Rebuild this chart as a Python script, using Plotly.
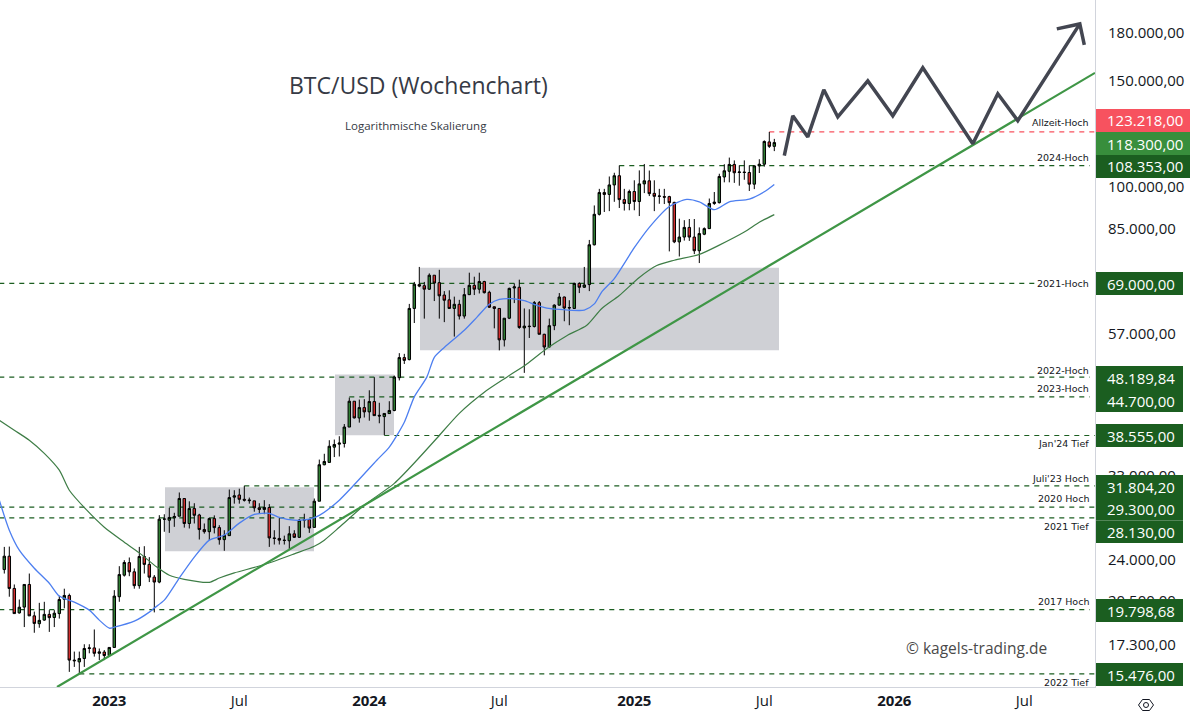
import pandas as pd
import plotly.graph_objects as go

W0 = pd.Timestamp("2023-01-02")
def wk(w):
    return W0 + pd.Timedelta(days=7 * w)

dates = pd.date_range("2022-08-08", periods=155, freq="7D")

opens = [
 23080,24290,21470,19550,19990,21800,19330,18760,19020,19440,19210,19500,20600,20900,16320,16210,16420,17060,17100,16750,16830,
 16610,17130,20800,22590,23700,22880,21700,24260,23540,22420,22000,27990,27880,28130,28310,30290,27530,29150,28440,26900,26680,28050,27100,25880,26280,30450,30700,30200,30130,30020,29230,29050,29270,26050,26000,25830,25770,26460,26110,27880,27950,27120,29980,34470,34780,36870,37300,37390,39820,43960,41230,42900,
 42200,43900,41650,41450,41930,42430,48100,51950,51550,62700,68700,68400,67500,71200,69200,66000,64800,62700,63700,60900,66100,68500,67500,69500,66700,63100,62700,55600,60400,67800,68000,58200,58600,58500,64100,56800,54100,58700,63500,65500,62800,62700,69000,68000,68700,80000,89900,97700,97000,100600,104200,95100,93700,
 98100,94400,101000,102200,97400,96300,96200,96200,94100,80900,82400,85500,82400,78200,83300,85100,93700,94000,103700,106000,108800,105500,105700,105500,100900,108200,108900,118600,116600]
highs = [
 25170,25200,21800,20580,21800,22730,19650,20320,20400,19760,19760,20870,21450,21050,16860,16860,17340,17340,18350,17060,16960,
 17130,21330,23380,23920,24170,23180,25170,25240,24200,22600,28420,28520,29230,28680,31000,30290,29970,29750,28570,27530,28150,28400,27350,26830,31350,31270,31450,31800,30400,30020,29750,30100,29650,26830,28100,26280,27250,26830,28000,28580,27950,30290,35160,35950,37862,37960,38450,40280,44580,43960,44240,44300,
 45840,48190,43700,41950,43960,48500,52840,52700,63800,69400,73500,69400,71700,71200,72700,67000,67200,65600,64800,67800,71900,70800,71900,69700,67100,63200,62700,60400,67900,69000,70000,62700,62500,64500,64500,56900,60300,63700,66500,65600,64700,69200,69300,73500,81500,93000,99100,99100,103900,105400,108350,99100,98800,
 102400,106360,109000,106300,102400,99100,99100,96500,94300,88400,87900,88300,88300,85500,85500,95500,97900,105000,108900,111700,110500,108400,110500,108400,108400,111000,119300,123218,120000]
lows = [
 22730,20800,19500,19500,18520,19330,18120,18470,18970,18180,18520,19130,19900,15600,15900,15480,15900,16750,16540,16320,16320,
 16590,17130,20400,22470,22500,21450,21450,22730,22000,19590,21900,26670,26560,27180,28310,27100,27010,27530,25890,26480,25830,26500,25390,24800,26250,29700,29700,29940,29700,28800,28640,28530,25170,25400,25400,25400,24920,26040,26040,27100,26560,27120,29980,34400,34750,35500,35580,36820,39820,41150,40500,41300,
 40800,41600,40400,38600,41900,42300,47600,50700,51400,59300,68000,60300,67300,64500,60300,59500,62600,56300,60100,60300,66000,66000,66400,66400,62800,58100,53400,54200,60200,64000,58000,49000,56000,58300,56800,52400,54000,57700,63400,59700,58800,62600,66500,67800,67000,79800,89500,90700,91000,94300,92100,91200,91300,
 91300,89300,97500,96400,91000,93600,93500,78000,80500,76500,81300,81200,77200,74600,83000,85000,93200,93700,101600,101600,101400,100300,102600,98300,99000,105300,107900,115900,114500]
closes = [
 24290,21470,19500,19980,21800,19330,18780,19000,19440,19200,19530,20580,20900,16320,16280,16420,17060,17100,16750,16840,16610,
 17130,20850,22640,23710,22880,21700,24260,23540,22420,22000,27990,28000,28170,28280,30290,27530,29150,28410,26900,26680,28050,27100,25880,26310,30400,30600,30200,30100,30050,29230,29050,29270,26050,26000,25830,25800,26460,26110,27880,27950,27050,29980,34470,34900,37000,37250,37450,39820,43960,41240,42900,42200,
 43900,41600,41550,41950,42430,48230,51950,51400,62700,68800,68300,67500,71200,69100,65800,64700,62700,63700,60900,66100,68500,67500,69500,66600,63000,62700,55600,60400,67700,68100,58300,58600,58500,64100,56800,54100,58700,63500,65500,62800,62900,69000,68000,68600,80000,89900,97700,97000,100600,104200,95100,93700,98100,
 94400,101000,102200,97300,96300,96400,96000,94000,80900,82400,85500,82400,78200,83500,85100,93700,94200,103900,106200,108800,105400,105700,105500,100900,108200,108900,118800,116600,118300]
assert len(opens) == len(highs) == len(lows) == len(closes) == 155

blue_weeks = [-22,-20,-18,-15,-12,-10,-7,-4,-2,0,1,5,8,9,11,14,17,20,23,26,29,32,34,37,40,42,46,53.5,56,59,61,63.5,65,67,71,73.5,76,78,80.5,83,85,87.5,90,95,97,98.5,101,105,108,112,115.5,118,121,124,128,131,133]
blue_vals = [30097,26833,24857,23200,21900,20850,20370,19759,19018,18440,18510,18940,19610,19920,20530,22340,24200,25830,26340,27570,28500,28620,28180,27880,27990,28400,30100,35070,36870,40550,44700,48200,52000,54000,57670,60600,63700,64900,65100,64600,63700,62800,62500,62300,63800,66800,70300,79100,85500,92600,95200,94300,91500,94300,95300,98000,100800]
green_weeks = [-22,-19,-16,-13,-10,-8,-4.5,-1,3,6,9.5,12,15,20,22,25,29.5,33,37,41,43,46,51,57,61.5,65.5,70,75,79.5,83.5,87.5,91.5,95.5,98.5,102,106,109.5,113,118,122,127,130,133]
green_vals = [40872,39338,37862,36000,33757,31270,28967,27140,25630,24600,23300,22580,22230,21980,22340,22790,23330,23830,24510,25230,25830,27130,29530,32100,35070,38150,41970,45500,48200,50700,53800,56500,58800,62700,65900,70600,73900,75400,77100,79900,84000,87200,89800]
trend_weeks = [-10.46, 197.14]
trend_vals = [14723, 154500]
forecast_weeks = [135,136.7,139.7,142.9,145.7,151.7,156.7,162.7,172.7,177.7,181.7,194.1]
forecast_vals = [112500,131100,120900,144800,130500,149800,131100,157500,117800,142600,128600,186300]
arrow_weeks = [189.5,194.1,195]
arrow_vals = [182800,186300,171900]

boxes = [(11.14,40.94,24760,31630),(45.14,56.94,38590,48670),(62.14,133.94,53422,73300)]
hlines = [
 (132,197.14,123218,"#f7525f"),(102,196.1,108353,"#1b5e20"),(-22,185.5,69000,"#1b5e20"),(-22,196.1,48189.84,"#1b5e20"),
 (48,196.1,44700,"#1b5e20"),(55,197.14,38555,"#1b5e20"),(27,197.14,31804.2,"#1b5e20"),(-22,197.14,29300,"#1b5e20"),
 (-22,197.14,28130,"#1b5e20"),(-22,196.1,19798.68,"#1b5e20"),(-6,197.14,15476,"#1b5e20")]
line_labels = [("Allzeit-Hoch",123),("2024-Hoch",157),("2021-Hoch",284),("2022-Hoch",370),("2023-Hoch",388),
 ("Jan'24 Tief",443),("Juli'23 Hoch",478),("2020 Hoch",498),("2021 Tief",526),("2017 Hoch",601),("2022 Tief",682)]
badges = [("123.218,00",109,132,1190,"#f7525f"),("118.300,00",132,155,1190,"#388e3c"),("108.353,00",155,178,1190,"#1b5e20"),
 ("69.000,00",272,295,1183,"#1b5e20"),("48.189,84",366,389,1183,"#1b5e20"),("44.700,00",389,412,1183,"#1b5e20"),("38.555,00",424,447,1183,"#1b5e20"),
 ("31.804,20",475,498,1183,"#1b5e20"),("29.300,00",498,520.5,1183,"#1b5e20"),("28.130,00",520.5,543,1183,"#1b5e20"),("19.798,68",599,622,1183,"#1b5e20"),("15.476,00",663,686,1183,"#1b5e20")]
y_ticks = [180000,150000,100000,85000,57000,33000,24000,20500,17300]
y_labels = ["180.000,00","150.000,00","100.000,00","85.000,00","57.000,00","33.000,00","24.000,00","20.500,00","17.300,00"]
x_ticks = ["2023-01-02","2023-07-03","2024-01-01","2024-07-01","2025-01-06","2025-07-07","2026-01-05","2026-07-06"]
x_labels = ["<b>2023</b>","Jul","<b>2024</b>","Jul","<b>2025</b>","Jul","<b>2026</b>","Jul"]

PW, PH = 1095, 687
FONT = "Open Sans"
SMALL = "DejaVu Sans"
DARK = "#131722"
def px(x): return x / PW
def py(y): return 1 - y / PH

fig = go.Figure()
fig.add_trace(go.Candlestick(x=dates, open=opens, high=highs, low=lows, close=closes, whiskerwidth=0,
    increasing=dict(line=dict(color="#000000", width=1), fillcolor="#2e7d32"),
    decreasing=dict(line=dict(color="#000000", width=1), fillcolor="#d32f2f"), hoverinfo="skip"))
fig.add_trace(go.Scatter(x=[wk(w) for w in green_weeks], y=green_vals, mode="lines", line=dict(color="#3e7d46", width=1.2, shape="spline", smoothing=0.7), hoverinfo="skip"))
fig.add_trace(go.Scatter(x=[wk(w) for w in blue_weeks], y=blue_vals, mode="lines", line=dict(color="#4d7ff0", width=1.3, shape="spline", smoothing=0.7), hoverinfo="skip"))
fig.add_trace(go.Scatter(x=[wk(w) for w in trend_weeks], y=trend_vals, mode="lines", line=dict(color="#3f9646", width=2.2), hoverinfo="skip"))
fig.add_trace(go.Scatter(x=[wk(w) for w in forecast_weeks], y=forecast_vals, mode="lines", line=dict(color="#434651", width=3.5), hoverinfo="skip"))
fig.add_trace(go.Scatter(x=[wk(w) for w in arrow_weeks], y=arrow_vals, mode="lines", line=dict(color="#434651", width=3.5), hoverinfo="skip"))

x_end = wk(197.14)
shapes = []
for w0, w1, y0, y1 in boxes:
    shapes.append(dict(type="rect", xref="x", yref="y", x0=wk(w0), x1=wk(w1), y0=y0, y1=y1,
                       fillcolor="#cfd0d5", line_width=0, layer="below"))
for w0, w1, v, c in hlines:
    shapes.append(dict(type="line", xref="x", yref="y", x0=wk(w0), x1=wk(w1), y0=v, y1=v,
                       line=dict(color=c, width=1.2, dash="5px,5px"), layer="below"))
# settings icon under the price axis
hx = [(1138.5,705),(1142.5,699.5),(1149.5,699.5),(1153.5,705),(1149.5,710.5),(1142.5,710.5)]
path = "M" + "L".join(f"{px(a):.5f},{py(b):.5f}" for a, b in hx) + "Z"
shapes.append(dict(type="path", xref="paper", yref="paper", path=path, line=dict(color=DARK, width=1)))
shapes.append(dict(type="circle", xref="paper", yref="paper", x0=px(1143.5), x1=px(1148.5), y0=py(707.5), y1=py(702.5), line=dict(color=DARK, width=1)))
for t, y0, y1, right, c in badges:
    shapes.append(dict(type="rect", xref="paper", yref="paper", x0=px(1096), x1=px(right), y0=py(y1), y1=py(y0),
                       fillcolor=c, line_width=0, layer="above"))

ann = [
 dict(text="BTC/USD (Wochenchart)", x=px(418), y=py(85), font=dict(size=23, color="#363a45", family=FONT)),
 dict(text="Logarithmische Skalierung", x=px(416), y=py(126), font=dict(size=11.5, color="#363a45", family=FONT)),
 dict(text="© kagels-trading.de", x=px(976.5), y=py(648), font=dict(size=15.5, color="#4a4a4a", family=FONT)),
]
for t, y in line_labels:
    ann.append(dict(text=t, x=px(1091), y=py(y), xanchor="right", font=dict(size=9.5, color=DARK, family=SMALL)))
for t, y0, y1, right, c in badges:
    ann.append(dict(text=t, x=px(1105), y=py((y0 + y1) / 2), xanchor="left", font=dict(size=15, color="#ffffff", family=FONT)))
for a in ann:
    a.update(xref="paper", yref="paper", showarrow=False)
    a.setdefault("yanchor", "middle")
    a.setdefault("xanchor", "center")

fig.update_layout(
    width=1190, height=720, margin=dict(l=0, r=95, t=0, b=33), autosize=False,
    paper_bgcolor="#ffffff", plot_bgcolor="#ffffff", showlegend=False, shapes=shapes, annotations=ann,
    font=dict(family=FONT, color=DARK, size=14), hovermode=False,
    xaxis=dict(type="date", range=[wk(-21.86), x_end], tickvals=x_ticks, ticktext=x_labels, showgrid=False, zeroline=False,
               rangeslider=dict(visible=False), ticks="", showline=True, linecolor="#d1d4dc", linewidth=1,
               tickfont=dict(size=15, color=DARK, family=FONT), tickangle=0),
    yaxis=dict(type="log", side="right", range=[4.168, 5.31], tickvals=y_ticks, ticktext=y_labels, showgrid=False, zeroline=False,
               ticks="", showline=True, linecolor="#d1d4dc", linewidth=1, ticklabelstandoff=9,
               tickfont=dict(size=15, color=DARK, family=FONT)),
)
fig.write_html("out.html", post_script="document.body.style.margin='0';", config=dict(displayModeBar=False))
